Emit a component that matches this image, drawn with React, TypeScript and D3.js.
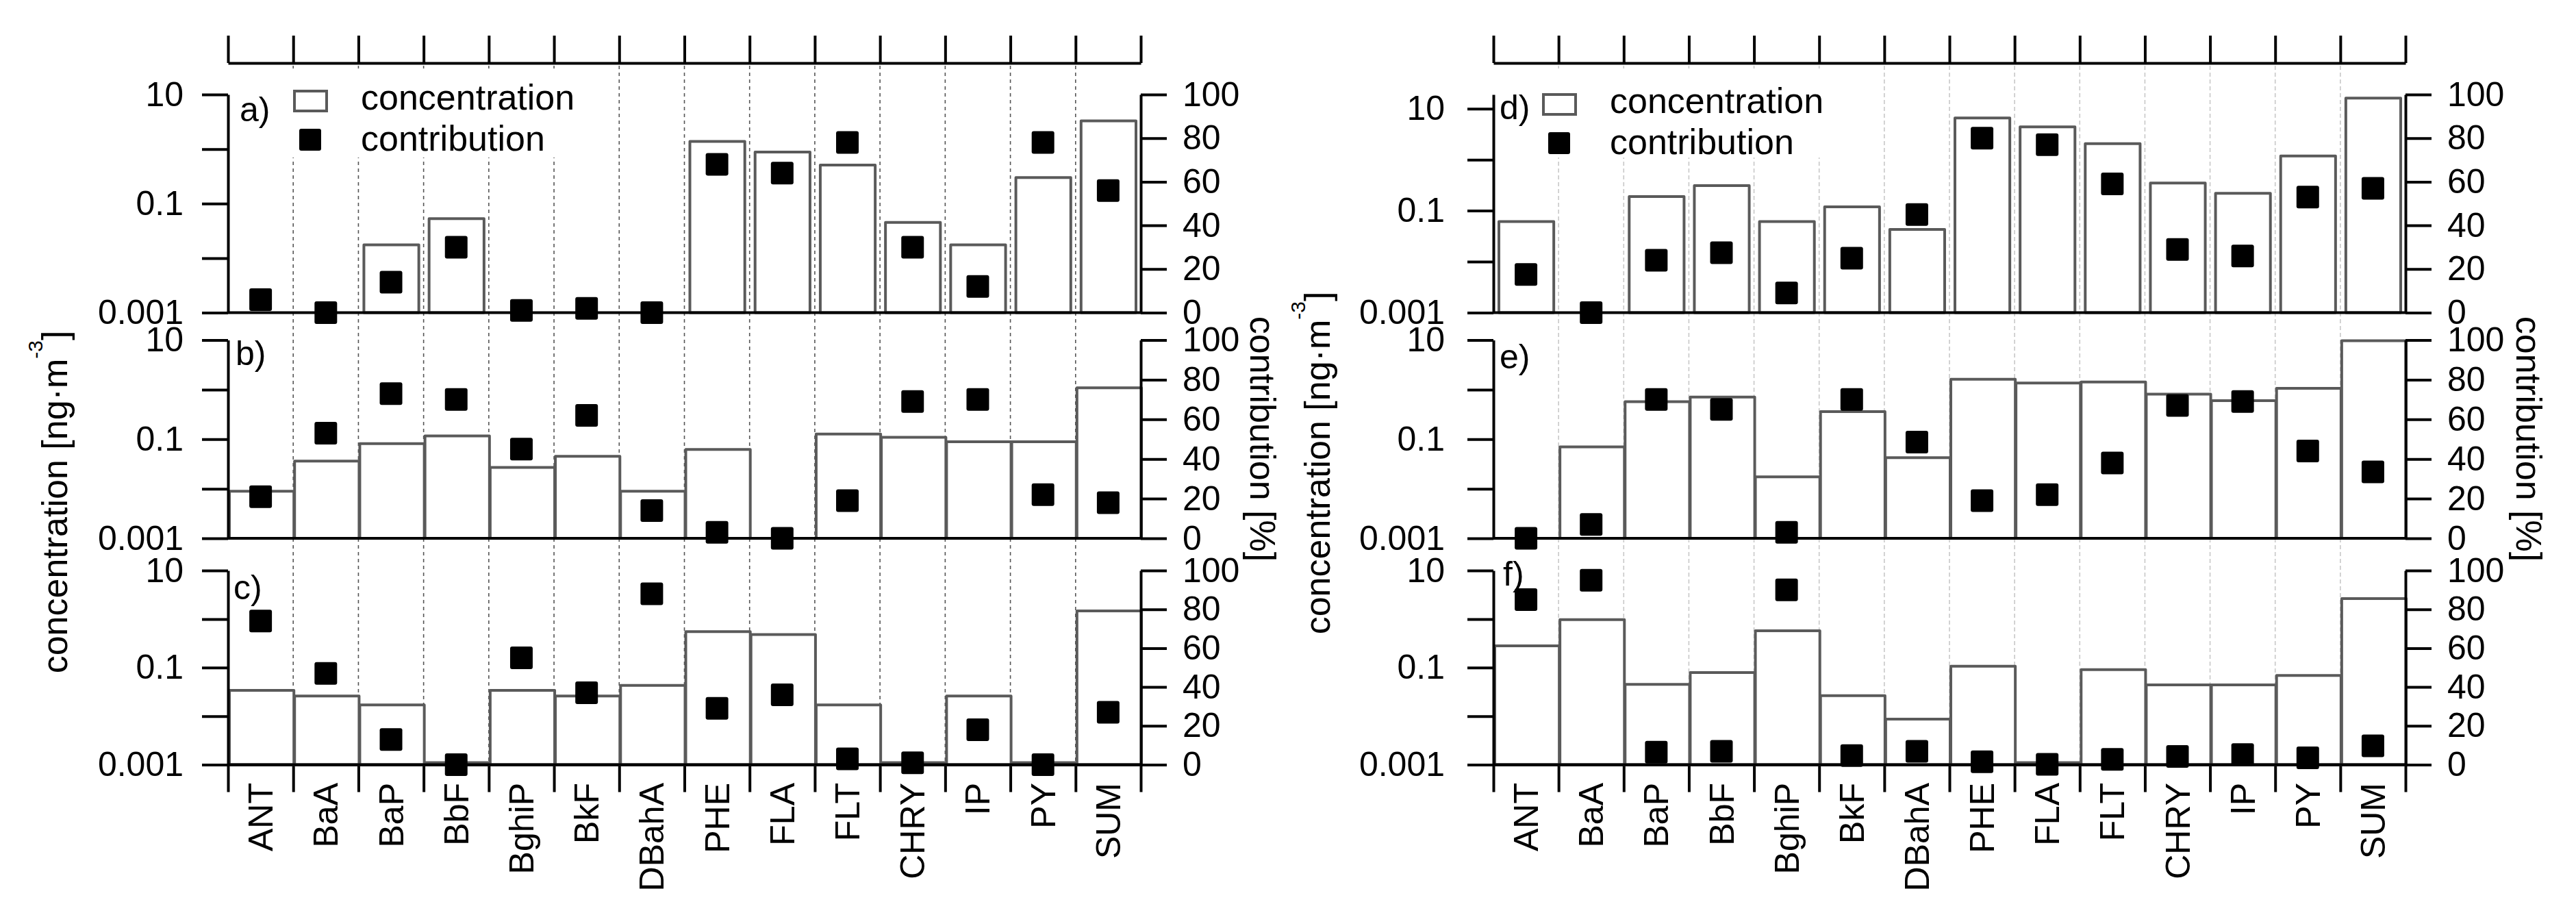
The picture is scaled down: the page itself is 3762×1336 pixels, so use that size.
import { useEffect, useRef } from "react";
import * as d3 from "d3";

// ---- data ----
const categories = ["ANT", "BaA", "BaP", "BbF", "BghiP", "BkF", "DBahA", "PHE", "FLA", "FLT", "CHRY", "IP", "PY", "SUM"];

// concentration [ng m-3], null = below axis
const concA = [null, null, 0.0175, 0.053, null, null, null, 1.38, 0.88, 0.51, 0.045, 0.0175, 0.3, 3.29];
const concB = [0.0089, 0.036, 0.081, 0.116, 0.027, 0.045, 0.0089, 0.062, null, 0.127, 0.109, 0.089, 0.089, 1.09];
const concC = [0.034, 0.026, 0.017, 0.0011, 0.034, 0.026, 0.043, 0.55, 0.48, 0.017, 0.0011, 0.026, 0.0011, 1.47];
const concD = [0.061, null, 0.19, 0.31, 0.061, 0.119, 0.043, 6.6, 4.4, 2.07, 0.35, 0.22, 1.18, 16.1];
const concE = [null, 0.07, 0.57, 0.71, 0.0174, 0.36, 0.0425, 1.62, 1.36, 1.42, 0.81, 0.6, 1.06, 9.7];
const concF = [0.28, 0.975, 0.045, 0.079, 0.575, 0.0265, 0.0087, 0.107, 0.0011, 0.091, 0.044, 0.044, 0.069, 2.65];

// contribution [%]
const contribA = [6, 0, 14, 30, 1, 2, 0, 68, 64, 78, 30, 12, 78, 56];
const contribB = [21, 53, 73, 70, 45, 62, 14, 3, 0, 19, 69, 70, 22, 18];
const contribC = [74, 47, 13, 0, 55, 37, 88, 29, 36, 3, 1, 18, 0, 27];
const contribD = [17.5, 0, 24, 27.5, 9, 25, 45, 80, 77, 59, 29, 26, 53, 57];
const contribE = [0, 7, 70, 65, 3, 70, 48.5, 19, 22, 38, 67, 69, 44, 33.5];
const contribF = [85, 95, 6.4, 6.9, 90, 4.7, 6.9, 1.5, 0.2, 2.7, 4.2, 5.2, 3.5, 9.7];

const logTicks = [0.001, 0.01, 0.1, 1, 10];
const logTickLabels = ["0.001", "", "0.1", "", "10"];
const pctTicks = [0, 20, 40, 60, 80, 100];

const FONT = "'Liberation Sans', Arial, sans-serif";
const W = 3762;
const H = 1336;

export default function App() {
  const svgRef = useRef<SVGSVGElement>(null);

  useEffect(() => {
    document.body.style.margin = "0";
    const svg = d3.select(svgRef.current);
    svg.selectAll("*").remove();
    svg.attr("width", W).attr("height", H).style("background", "#fff").style("display", "block");

    const rows = [
      { top: 138, bottom: 456.5 },
      { top: 496.5, bottom: 786 },
      { top: 833, bottom: 1116.5 },
    ];
    const cols = [
      { x0: 333, x1: 1666, grid: "#555", dash: "5,5", pad: 27, legendX: 97, legendTextY: [160, 220] },
      { x0: 2181, x1: 3513, grid: "#c8c8c8", dash: "6,4", pad: 33, legendX: 73, legendTextY: [165, 225] },
    ];

    const panels = [
      { label: "a)", conc: concA, contrib: contribA, col: 0, row: 0, max: 10, narrow: true, lx: 350, ly: 177 },
      { label: "b)", conc: concB, contrib: contribB, col: 0, row: 1, max: 10, narrow: false, lx: 344, ly: 533 },
      { label: "c)", conc: concC, contrib: contribC, col: 0, row: 2, max: 10, narrow: false, lx: 341, ly: 875 },
      { label: "d)", conc: concD, contrib: contribD, col: 1, row: 0, max: 19, narrow: true, lx: 2190, ly: 174 },
      { label: "e)", conc: concE, contrib: contribE, col: 1, row: 1, max: 10, narrow: false, lx: 2190, ly: 538 },
      { label: "f)", conc: concF, contrib: contribF, col: 1, row: 2, max: 10, narrow: false, lx: 2195, ly: 855 },
    ];

    const styleAxis = (ax: any, fs = 50) => {
      ax.attr("font-family", FONT).attr("font-size", fs);
      ax.selectAll("path, line").attr("stroke", "#000").attr("stroke-width", 4);
      ax.selectAll("text").attr("fill", "#000");
    };

    cols.forEach((c, ci) => {
      const x = d3.scaleBand<string>().domain(categories).range([c.x0, c.x1]).padding(0);
      const xi = d3.scaleLinear().domain([0, categories.length]).range([c.x0, c.x1]);
      const g = svg.append("g");

      // category separators
      g.selectAll("line.grid")
        .data(d3.range(1, categories.length))
        .join("line")
        .attr("class", "grid")
        .attr("x1", (i) => xi(i)).attr("x2", (i) => xi(i))
        .attr("y1", 96).attr("y2", rows[2].bottom)
        .attr("stroke", c.grid)
        .attr("stroke-width", 1.6)
        .attr("stroke-dasharray", c.dash);

      // top axis
      g.append("g")
        .attr("transform", `translate(0,92)`)
        .call(d3.axisTop(xi).tickValues(d3.range(0, categories.length + 1)).tickSize(40).tickSizeOuter(0).tickFormat(() => ""))
        .call((ax) => styleAxis(ax));

      // bottom axis (category boundaries)
      g.append("g")
        .attr("transform", `translate(0,${rows[2].bottom})`)
        .call(d3.axisBottom(xi).tickValues(d3.range(0, categories.length + 1)).tickSize(40).tickSizeOuter(0).tickFormat(() => ""))
        .call((ax) => styleAxis(ax));

      // category labels
      g.selectAll("text.cat")
        .data(categories)
        .join("text")
        .attr("class", "cat")
        .attr("transform", (d) => `translate(${x(d)! + x.bandwidth() / 2},1143) rotate(-90)`)
        .attr("text-anchor", "end")
        .attr("dy", "0.35em")
        .attr("font-family", FONT)
        .attr("font-size", 50)
        .text((d) => d);

      panels.filter((p) => p.col === ci).forEach((p) => {
        const r = rows[p.row];
        const y = d3.scaleLog().domain([0.001, p.max]).range([r.bottom, r.top]);
        const yc = d3.scaleLinear().domain([0, 100]).range([r.bottom, r.top]);
        const pg = g.append("g");

        const inset = p.narrow ? 8 : 2;
        const wBar = p.narrow ? x.bandwidth() - 15 : x.bandwidth() - 1;

        // concentration bars
        pg.selectAll("rect.bar")
          .data(categories.map((cat, i) => ({ cat, v: p.conc[i] })).filter((d) => d.v !== null))
          .join("rect")
          .attr("class", "bar")
          .attr("x", (d) => x(d.cat)! + inset)
          .attr("width", wBar)
          .attr("y", (d) => y(d.v as number))
          .attr("height", (d) => r.bottom - y(d.v as number))
          .attr("fill", "#fff")
          .attr("stroke", "#5a5a5a")
          .attr("stroke-width", 4)
          .attr("stroke-linejoin", "round");

        // left log axis
        pg.append("g")
          .attr("transform", `translate(${c.x0},0)`)
          .call(
            d3.axisLeft(y)
              .tickValues(logTicks)
              .tickSize(38)
              .tickSizeOuter(0)
              .tickPadding(c.pad)
              .tickFormat((_, i) => logTickLabels[i])
          )
          .call((ax) => styleAxis(ax));

        // right percent axis
        pg.append("g")
          .attr("transform", `translate(${c.x1},0)`)
          .call(d3.axisRight(yc).tickValues(pctTicks).tickSize(38).tickSizeOuter(0).tickPadding(23).tickFormat(d3.format("d")))
          .call((ax) => styleAxis(ax));

        // bottom line of the panel
        pg.append("line")
          .attr("x1", c.x0).attr("x2", c.x1)
          .attr("y1", r.bottom).attr("y2", r.bottom)
          .attr("stroke", "#000").attr("stroke-width", 4);

        // contribution markers
        pg.selectAll("rect.mk")
          .data(categories.map((cat, i) => ({ cat, v: p.contrib[i] })))
          .join("rect")
          .attr("class", "mk")
          .attr("x", (d) => x(d.cat)! + x.bandwidth() / 2 - 16.5)
          .attr("y", (d) => yc(d.v) - 16.5)
          .attr("width", 33).attr("height", 33)
          .attr("rx", 3)
          .attr("fill", "#000");

        // panel label
        pg.append("text")
          .attr("x", p.lx).attr("y", p.ly)
          .attr("font-family", FONT).attr("font-size", 50)
          .text(p.label);

        // legend (top panels only)
        if (p.row === 0) {
          const lx = c.x0 + c.legendX;
          const lg = pg.append("g");
          lg.append("rect")
            .attr("x", lx - 8).attr("y", 100)
            .attr("width", 430).attr("height", 130)
            .attr("fill", "#fff");
          lg.append("rect")
            .attr("x", lx).attr("y", c.legendTextY[0] - 27)
            .attr("width", 47).attr("height", 29)
            .attr("fill", "#fff").attr("stroke", "#5a5a5a").attr("stroke-width", 4);
          lg.append("rect")
            .attr("x", lx + 7).attr("y", c.legendTextY[1] - 32)
            .attr("width", 32).attr("height", 32).attr("rx", 3)
            .attr("fill", "#000");
          lg.selectAll("text")
            .data(["concentration", "contribution"])
            .join("text")
            .attr("x", lx + 97)
            .attr("y", (_, i) => c.legendTextY[i])
            .attr("font-family", FONT).attr("font-size", 52)
            .text((d) => d);
        }
      });
    });

    // axis titles
    const titles = [
      { x: 98, y: 733, rot: -90, conc: true },
      { x: 1826, y: 641, rot: 90, conc: false },
      { x: 1942, y: 676, rot: -90, conc: true },
      { x: 3675, y: 641, rot: 90, conc: false },
    ];
    titles.forEach((t) => {
      const tx = svg.append("text")
        .attr("transform", `translate(${t.x},${t.y}) rotate(${t.rot})`)
        .attr("text-anchor", "middle")
        .attr("font-family", FONT)
        .attr("font-size", 52);
      if (t.conc) {
        tx.append("tspan").text("concentration [ng\u00b7m");
        tx.append("tspan").attr("dy", -36).attr("font-size", 30).text("-3");
        tx.append("tspan").attr("dy", 36).text("]");
      } else {
        tx.text("contribution [%]");
      }
    });
  }, []);

  return <svg ref={svgRef} />;
}
